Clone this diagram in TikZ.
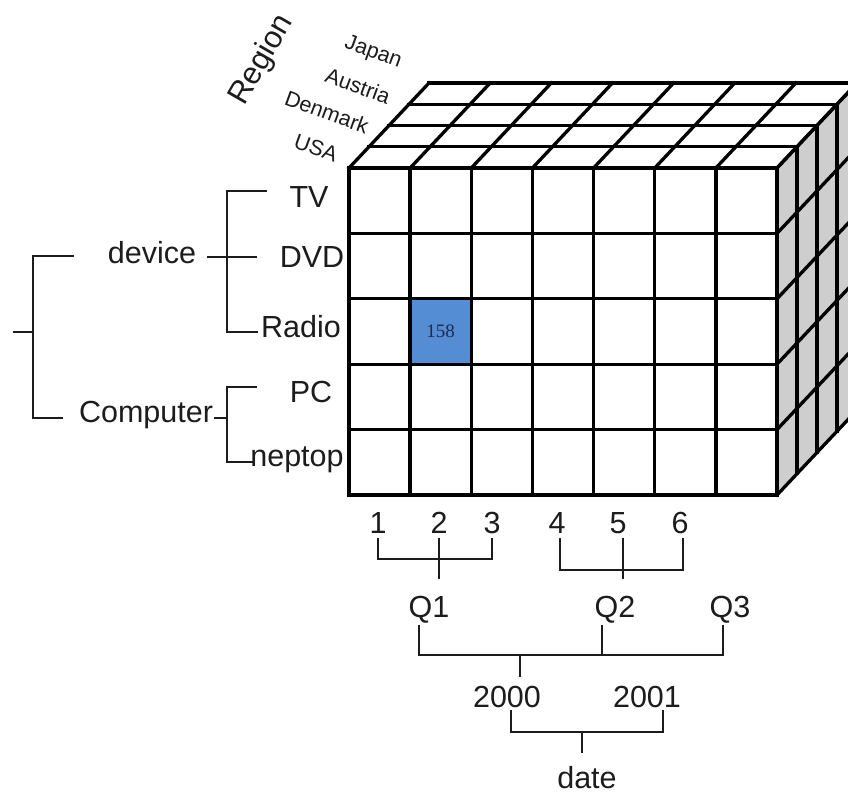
\documentclass[tikz,border=0pt]{standalone}
\usepackage{fontspec}
\setmainfont{Liberation Sans}
\newfontfamily\cellfont{Liberation Serif}
\definecolor{cellblue}{RGB}{84,141,212}
\definecolor{sidegray}{RGB}{206,206,206}
\definecolor{inkgray}{RGB}{28,28,28}
\definecolor{cellink}{RGB}{28,44,80}
\begin{document}
\begin{tikzpicture}[x=1pt,y=-1pt,
  lab/.style={font=\fontsize{30.5}{36}\selectfont, text=inkgray, inner sep=0pt},
  country/.style={font=\fontsize{21.5}{25}\selectfont, text=inkgray, inner sep=0pt, rotate=-20},
  tree/.style={line width=2.3pt, inkgray},
  cubeline/.style={line width=3.3pt, black, line cap=rect, line join=miter},
]
\useasboundingbox (0,0) rectangle (848,794);
\fill[white] (0,0) rectangle (848,794);

% ---- data cube: 7 columns x 5 rows x 4 layers ----
\begin{scope}
\clip (0,0) rectangle (848,794);
\fill[sidegray] (777,168) -- (857,83) -- (857,410) -- (777,495) -- cycle;
\fill[cellblue] (410.14,298.8) rectangle (471.29,364.2);
% layer lines on the top face
\foreach \k in {0,...,4}
  \draw[cubeline] ({349+20*\k},{168-21.25*\k}) -- ({777+20*\k},{168-21.25*\k});
% column lines: front face and top face
\foreach \i in {0,...,7}{
  \pgfmathsetmacro\cx{349+61.143*\i}
  \draw[cubeline] (\cx,168) -- (\cx,495);
  \draw[cubeline] (\cx,168) -- ({\cx+80},83);
}
% row lines: front face and side face
\foreach \j in {0,...,5}{
  \pgfmathsetmacro\ry{168+65.4*\j}
  \draw[cubeline] (349,\ry) -- (777,\ry);
  \draw[cubeline] (777,\ry) -- (857,{\ry-85});
}
% layer lines on the side face
\foreach \k in {0,...,4}
  \draw[cubeline] ({777+20*\k},{168-21.25*\k}) -- ({777+20*\k},{495-21.25*\k});
\end{scope}
\node[font=\cellfont\fontsize{19}{22}\selectfont, text=cellink, inner sep=0pt] (cell) at (440.7,331.5) {158};

% ---- region axis ----
\node[font=\fontsize{31}{35}\selectfont, text=inkgray, inner sep=0pt, rotate=60] (region) at (262,60) {Region};
\node[country] (japan)   at (373,53)  {Japan};
\node[country] (austria) at (358,86)  {Austria};
\node[country] (denmark) at (327,112) {Denmark};
\node[country] (usa)     at (316,148) {USA};

% ---- product hierarchy ----
\node[lab] (device)   at (152,253) {device};
\node[lab] (computer) at (146,415) {Computer};
\node[lab] (tv)     at (309,197) {TV};
\node[lab] (dvd)    at (312,257) {DVD};
\node[lab] (radio)  at (301,327) {Radio};
\node[lab] (pc)     at (311,392) {PC};
\node[lab] (neptop) at (297,460) {neptop};

\coordinate (rootstub) at (13,332);
\coordinate (rootmid)  at (33,332);
\coordinate (roottop)  at (33,256);
\coordinate (rootbot)  at (33,418);
\coordinate (devin)    at (74,256);
\coordinate (compin)   at (63,418);
\draw[tree] (rootstub) -- (rootmid);
\draw[tree] (devin) -- (roottop) -- (rootbot) -- (compin);

\coordinate (devout) at (207,257);
\coordinate (devtop) at (227,191);
\coordinate (devmid) at (227,257);
\coordinate (devbot) at (227,332);
\coordinate (tvin)    at (267,191);
\coordinate (dvdin)   at (257,257);
\coordinate (radioin) at (258,332);
\draw[tree] (devout) -- (dvdin);
\draw[tree] (tvin) -- (devtop) -- (devbot) -- (radioin);

\coordinate (compout) at (214,418);
\coordinate (comptop) at (227,387);
\coordinate (compmid) at (227,418);
\coordinate (compbot) at (227,462);
\coordinate (pcin)     at (257,387);
\coordinate (neptopin) at (255,462);
\draw[tree] (compout) -- (compmid);
\draw[tree] (pcin) -- (comptop) -- (compbot) -- (neptopin);

% ---- date hierarchy ----
\node[lab] (m1) at (378,523) {1};
\node[lab] (m2) at (439,523) {2};
\node[lab] (m3) at (492,523) {3};
\node[lab] (m4) at (557,523) {4};
\node[lab] (m5) at (618,523) {5};
\node[lab] (m6) at (680,523) {6};
\node[lab] (q1) at (429,610) {Q1};
\node[lab] (q2) at (615,610) {Q2};
\node[lab] (q3) at (730,610) {Q3};
\node[lab] (y2000) at (507,697) {2000};
\node[lab] (y2001) at (647,697) {2001};
\node[lab] (date)  at (587,778) {date};

\draw[tree] (378,538) coordinate (b1a) -- (378,559) -- (492,559) -- (492,538) coordinate (b1b);
\draw[tree] (439,538) coordinate (s1a) -- (439,579) coordinate (s1b);
\draw[tree] (560,538) coordinate (b2a) -- (560,570) -- (683,570) -- (683,538) coordinate (b2b);
\draw[tree] (623,538) coordinate (s2a) -- (623,579) coordinate (s2b);
\draw[tree] (419,625) coordinate (b3a) -- (419,655) -- (723,655) -- (723,625) coordinate (b3b);
\draw[tree] (602,625) coordinate (b3c) -- (602,655);
\draw[tree] (520,655) coordinate (s3a) -- (520,677) coordinate (s3b);
\draw[tree] (511,710) coordinate (b4a) -- (511,732) -- (663,732) -- (663,710) coordinate (b4b);
\draw[tree] (582,732) coordinate (s4a) -- (582,753) coordinate (s4b);
\end{tikzpicture}
\end{document}
